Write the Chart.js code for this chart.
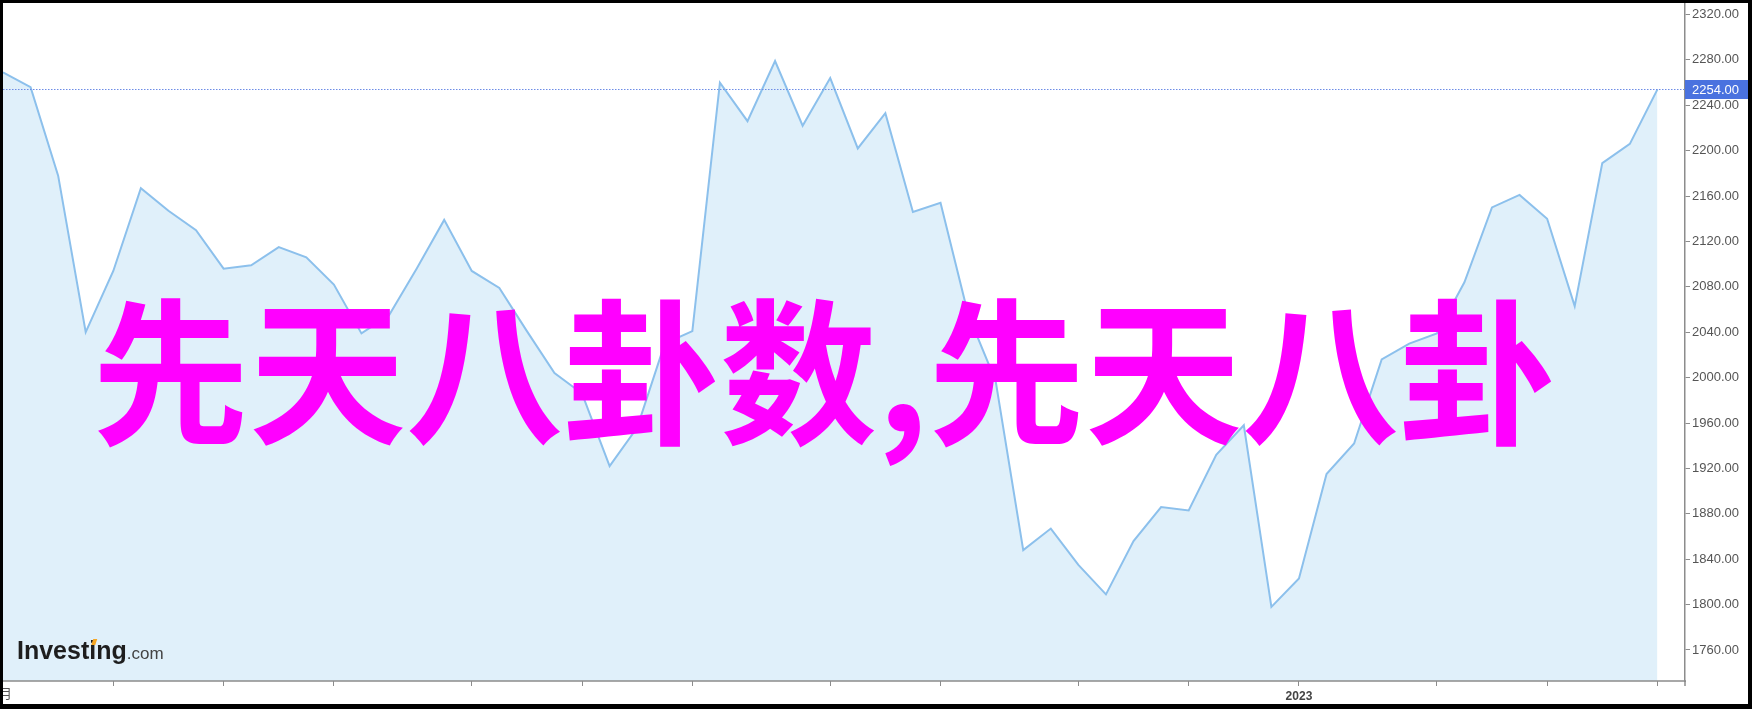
<!DOCTYPE html>
<html>
<head>
<meta charset="utf-8">
<script src="https://cdn.jsdelivr.net/npm/chart.js@4.4.1/dist/chart.umd.min.js"></script>
<style>
html, body { margin: 0; padding: 0; background: #000; }
#wrap { position: absolute; left: 3px; top: 3px; width: 1745px; height: 701px; background: #fff; }
</style>
</head>
<body>
<div id="wrap"><canvas id="chart"></canvas></div>
<script>
// weekly closes
var prices = [
    2269, 2256, 2178, 2040, 2094, 2167, 2147, 2130, 2096, 2099,
    2115, 2106, 2082, 2039, 2055, 2096, 2139, 2094, 2079, 2041,
    2004, 1986, 1922, 1956, 2030, 2041, 2260, 2226, 2279, 2222,
    2264, 2202, 2233, 2146, 2154, 2056, 1997, 1848, 1867, 1835,
    1809, 1856, 1886, 1883, 1932, 1958, 1798, 1823, 1915, 1942,
    2016, 2030, 2039, 2084, 2150, 2161, 2140, 2063, 2189, 2206,
    2254
];
// month ticks (week index) and their labels
var tickWeeks = [4, 8, 12, 17, 21, 25, 30, 34, 39, 43, 47, 52, 56, 60];
var tickLabels = ["", "", "", "", "", "", "", "", "", "", "2023", "", "", ""];
var yTicks = [1760, 1800, 1840, 1880, 1920, 1960, 2000, 2040, 2080, 2120, 2160, 2200, 2240, 2280, 2320];
var lastPrice = 2254;
var overlayText = "先天八卦数,先天八卦";

var chart;

Chart.defaults.font.family = "'Liberation Sans', Arial, sans-serif";

var overlay = {
    id: "overlay",
    afterDraw: function(chart) {
        var ctx = chart.ctx;
        var area = chart.chartArea;
        var py = Math.round(chart.scales.y.getPixelForValue(lastPrice)) + 0.5;
        ctx.save();

        // x axis line (the built-in border runs past the y axis)
        ctx.strokeStyle = "#8c8c8c";
        ctx.lineWidth = 1.5;
        ctx.beginPath();
        ctx.moveTo(area.left, area.bottom);
        ctx.lineTo(area.right + 1, area.bottom);
        ctx.moveTo(area.right, area.bottom);
        ctx.lineTo(area.right, area.bottom + 5);
        ctx.stroke();

        // dotted last-price line
        ctx.strokeStyle = "#6d8ce6";
        ctx.lineWidth = 1;
        ctx.setLineDash([1.5, 1.5]);
        ctx.beginPath();
        ctx.moveTo(area.left, py);
        ctx.lineTo(area.right, py);
        ctx.stroke();
        ctx.setLineDash([]);

        // last-price badge
        ctx.fillStyle = "#4a72df";
        ctx.fillRect(area.right, py - 9.5, 64, 19);
        ctx.fillStyle = "#ffffff";
        ctx.font = "13px 'Liberation Sans'";
        ctx.textBaseline = "middle";
        ctx.textAlign = "left";
        ctx.fillText(lastPrice.toFixed(2), area.right + 7, py + 1);

        // clipped month label at the left edge
        ctx.fillStyle = "#555";
        ctx.font = "13px 'Noto Sans CJK SC'";
        ctx.textAlign = "right";
        ctx.fillText("2月", 9, 690);

        // Investing.com logo
        ctx.textAlign = "left";
        ctx.textBaseline = "alphabetic";
        ctx.fillStyle = "#1e1e1e";
        ctx.font = "bold 25px 'Liberation Sans'";
        ctx.fillText("Investing", 14, 656);
        var w = ctx.measureText("Investing").width;
        var wi = ctx.measureText("Invest").width;
        ctx.fillStyle = "#f5a623";
        ctx.beginPath();
        ctx.moveTo(14 + wi + 2, 656 - 14);
        ctx.lineTo(14 + wi + 6, 656 - 14);
        ctx.lineTo(14 + wi + 8, 656 - 20);
        ctx.lineTo(14 + wi + 4, 656 - 20);
        ctx.closePath();
        ctx.fill();
        ctx.fillStyle = "#444";
        ctx.font = "17px 'Liberation Sans'";
        ctx.fillText(".com", 14 + w, 656);

        // big magenta caption
        ctx.fillStyle = "#ff00ff";
        ctx.font = "bold 157px 'Noto Sans CJK SC'";
        ctx.textAlign = "center";
        ctx.textBaseline = "middle";
        ctx.fillText(overlayText, 821, 369);

        ctx.restore();
    }
};

function createChart(canvas) {
    chart = new Chart(canvas, {
        type: "line",
        data: {
            datasets: [{
                data: prices.map((v, i) => ({x: i, y: v})),
                borderColor: "#8cc0ec",
                borderWidth: 2,
                backgroundColor: "#e0f0fa",
                fill: "start",
                pointRadius: 0,
                tension: 0,
            }]
        },
        options: {
            animation: false,
            responsive: true,
            maintainAspectRatio: false,
            layout: { padding: 0 },
            plugins: {
                legend: { display: false },
                tooltip: { enabled: false },
            },
            scales: {
                x: {
                    type: "linear",
                    min: 0,
                    max: 61,
                    afterBuildTicks: (s) => { s.ticks = tickWeeks.map(v => ({value: v})); },
                    afterFit: (s) => { s.height = 23; s.paddingLeft = 0; s.paddingRight = 0; },
                    grid: { drawOnChartArea: false, tickLength: 5, color: "#8c8c8c" },
                    border: { display: false },
                    ticks: {
                        padding: 3,
                        autoSkip: false,
                        maxRotation: 0,
                        color: "#444",
                        font: { size: 12, weight: "bold" },
                        callback: (v, i) => tickLabels[i],
                    },
                },
                y: {
                    position: "right",
                    min: 1732.68,
                    max: 2330.13,
                    afterBuildTicks: (s) => { s.ticks = yTicks.map(v => ({value: v})); },
                    afterFit: (s) => { s.width = 63; s.paddingTop = 0; s.paddingBottom = 0; },
                    grid: { drawOnChartArea: false, tickLength: 5, color: "#8c8c8c" },
                    border: { color: "#8c8c8c", width: 1.5 },
                    ticks: {
                        padding: 2,
                        autoSkip: false,
                        color: "#555",
                        font: { size: 13 },
                        callback: (v) => v.toFixed(2),
                    },
                },
            },
        },
        plugins: [overlay],
    });
}

createChart(document.getElementById("chart"));
</script>
</body>
</html>
